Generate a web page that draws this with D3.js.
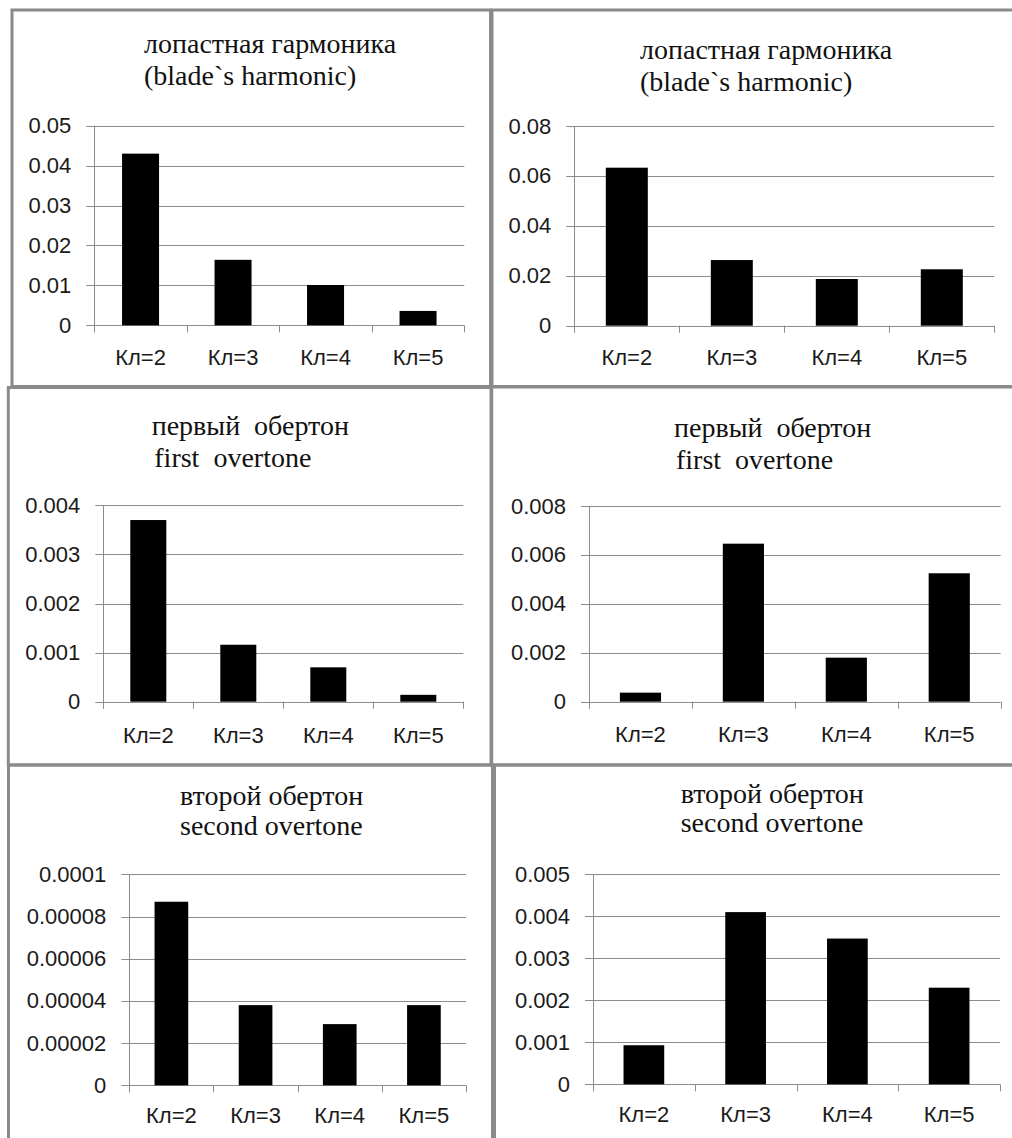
<!DOCTYPE html>
<html>
<head>
<meta charset="utf-8">
<script src="https://cdn.jsdelivr.net/npm/d3@7"></script>
<style>
  html, body { margin: 0; padding: 0; background: #fff; }
  svg { display: block; }
  text { white-space: pre; }
</style>
</head>
<body>
<script>
// Blade count categories (shared by every panel)
const categories = ["Кл=2", "Кл=3", "Кл=4", "Кл=5"];

// Amplitudes per harmonic, two measurement sets (left / right column)
const bladeHarmonicLeft   = [0.043, 0.0164, 0.0101, 0.0036];
const bladeHarmonicRight  = [0.0633, 0.0263, 0.0187, 0.0226];
const firstOvertoneLeft   = [0.0037, 0.00116, 0.0007, 0.00014];
const firstOvertoneRight  = [0.00037, 0.00646, 0.0018, 0.00525];
const secondOvertoneLeft  = [0.000087, 0.000038, 0.000029, 0.000038];
const secondOvertoneRight = [0.00093, 0.0041, 0.00347, 0.0023];

// Y tick values and their labels
const ticksBladeLeft    = [0, 0.01, 0.02, 0.03, 0.04, 0.05];
const labelsBladeLeft   = ["0", "0.01", "0.02", "0.03", "0.04", "0.05"];
const ticksBladeRight   = [0, 0.02, 0.04, 0.06, 0.08];
const labelsBladeRight  = ["0", "0.02", "0.04", "0.06", "0.08"];
const ticksFirstLeft    = [0, 0.001, 0.002, 0.003, 0.004];
const labelsFirstLeft   = ["0", "0.001", "0.002", "0.003", "0.004"];
const ticksFirstRight   = [0, 0.002, 0.004, 0.006, 0.008];
const labelsFirstRight  = ["0", "0.002", "0.004", "0.006", "0.008"];
const ticksSecondLeft   = [0, 0.00002, 0.00004, 0.00006, 0.00008, 0.0001];
const labelsSecondLeft  = ["0", "0.00002", "0.00004", "0.00006", "0.00008", "0.0001"];
const ticksSecondRight  = [0, 0.001, 0.002, 0.003, 0.004, 0.005];
const labelsSecondRight = ["0", "0.001", "0.002", "0.003", "0.004", "0.005"];

// Panel titles
const titleBlade  = ["лопастная гармоника", "(blade`s harmonic)"];
const titleFirst  = ["первый  обертон", "first  overtone"];
const titleSecond = ["второй обертон", "second overtone"];

// Panel definitions: data + frame/plot geometry
const panels = [
  { values: bladeHarmonicLeft, ticks: ticksBladeLeft, labels: labelsBladeLeft, title: titleBlade,
    frame: [12, 10, 490.5, 386.5], plot: [94.3, 464.3, 125.7, 325.3],
    titleX: [144, 144], titleY: [53, 85], catDy: 40 },
  { values: bladeHarmonicRight, ticks: ticksBladeRight, labels: labelsBladeRight, title: titleBlade,
    frame: [492, 10, 1030, 386.5], plot: [574.3, 994.3, 126, 325.7],
    titleX: [640, 640], titleY: [59.3, 90.7], catDy: 39.5 },
  { values: firstOvertoneLeft, ticks: ticksFirstLeft, labels: labelsFirstLeft, title: titleFirst,
    frame: [8.3, 387.5, 491, 765], plot: [103.3, 463.3, 505.3, 701.7],
    titleX: [151.7, 154.3], titleY: [435, 467.3], catDy: 41 },
  { values: firstOvertoneRight, ticks: ticksFirstRight, labels: labelsFirstRight, title: titleFirst,
    frame: [491.7, 387, 1030, 765], plot: [589, 1000.7, 506, 701.7],
    titleX: [674, 676], titleY: [437.3, 469.3], catDy: 40 },
  { values: secondOvertoneLeft, ticks: ticksSecondLeft, labels: labelsSecondLeft, title: titleSecond,
    frame: [8.5, 765, 492.5, 1150], plot: [129.3, 466, 874.3, 1085.3],
    titleX: [180, 180], titleY: [805, 835], catDy: 37.5 },
  { values: secondOvertoneRight, ticks: ticksSecondRight, labels: labelsSecondRight, title: titleSecond,
    frame: [494.5, 765, 1030, 1150], plot: [593, 1000, 874.3, 1084.3],
    titleX: [680.7, 680.7], titleY: [802.7, 831.7], catDy: 37.5 }
];

const W = 1012, H = 1138;
const gridColor = "#8c8c8c";
const frameColor = "#8a8a8a";
const labelFont = "'Liberation Sans', Arial, sans-serif";
const titleFont = "'Liberation Serif', 'Times New Roman', serif";

const svg = d3.select("body").append("svg")
  .attr("width", W).attr("height", H);

svg.append("rect").attr("width", W).attr("height", H).attr("fill", "#fff");

panels.forEach(p => {
  const g = svg.append("g");
  const [x0, x1, yTop, y0] = p.plot;

  const x = d3.scaleBand()
    .domain(categories)
    .range([x0, x1])
    .paddingInner(0.6)
    .paddingOuter(0.3);

  const y = d3.scaleLinear()
    .domain([0, p.ticks[p.ticks.length - 1]])
    .range([y0, yTop]);

  // horizontal gridlines (extend left as tick marks)
  g.selectAll("line.grid")
    .data(p.ticks)
    .join("line")
    .attr("x1", x0 - 8).attr("x2", x1)
    .attr("y1", d => Math.round(y(d)) + 0.5)
    .attr("y2", d => Math.round(y(d)) + 0.5)
    .attr("stroke", gridColor).attr("stroke-width", 1);

  // vertical value axis line
  g.append("line")
    .attr("x1", Math.round(x0) + 0.5).attr("x2", Math.round(x0) + 0.5)
    .attr("y1", y(p.ticks[p.ticks.length - 1])).attr("y2", y(0) + 7)
    .attr("stroke", gridColor).attr("stroke-width", 1);

  // category separators below the baseline
  const step = x.step();
  g.selectAll("line.cat")
    .data(d3.range(categories.length + 1))
    .join("line")
    .attr("x1", i => Math.round(x0 + i * step) + 0.5)
    .attr("x2", i => Math.round(x0 + i * step) + 0.5)
    .attr("y1", y(0)).attr("y2", y(0) + 7)
    .attr("stroke", gridColor).attr("stroke-width", 1);

  // bars
  g.selectAll("rect.bar")
    .data(p.values)
    .join("rect")
    .attr("x", (d, i) => x(categories[i]))
    .attr("width", x.bandwidth())
    .attr("y", d => y(d))
    .attr("height", d => y(0) - y(d))
    .attr("fill", "#000");

  // y tick labels
  const axis = d3.axisLeft(y)
    .tickValues(p.ticks)
    .tickFormat((d, i) => p.labels[i])
    .tickSize(0)
    .tickPadding(23);
  const ag = g.append("g")
    .attr("transform", `translate(${x0},0)`)
    .call(axis);
  ag.select(".domain").remove();
  ag.selectAll("text")
    .attr("font-family", labelFont)
    .attr("font-size", 22)
    .attr("fill", "#1a1a1a");

  // category labels
  g.selectAll("text.cat")
    .data(categories)
    .join("text")
    .attr("x", d => x(d) + x.bandwidth() / 2)
    .attr("y", y(0) + p.catDy)
    .attr("text-anchor", "middle")
    .attr("font-family", labelFont)
    .attr("font-size", 22)
    .attr("fill", "#1a1a1a")
    .text(d => d);

  // two-line title
  g.selectAll("text.title")
    .data(p.title)
    .join("text")
    .attr("x", (d, i) => p.titleX[i])
    .attr("y", (d, i) => p.titleY[i])
    .attr("font-family", titleFont)
    .attr("font-size", 28)
    .attr("fill", "#111")
    .text(d => d);
});

// panel frames on top
panels.forEach(p => {
  const [l, t, r, b] = p.frame;
  svg.append("rect")
    .attr("x", l).attr("y", t)
    .attr("width", r - l).attr("height", b - t)
    .attr("fill", "none")
    .attr("stroke", frameColor)
    .attr("stroke-width", 3);
});
</script>
</body>
</html>
